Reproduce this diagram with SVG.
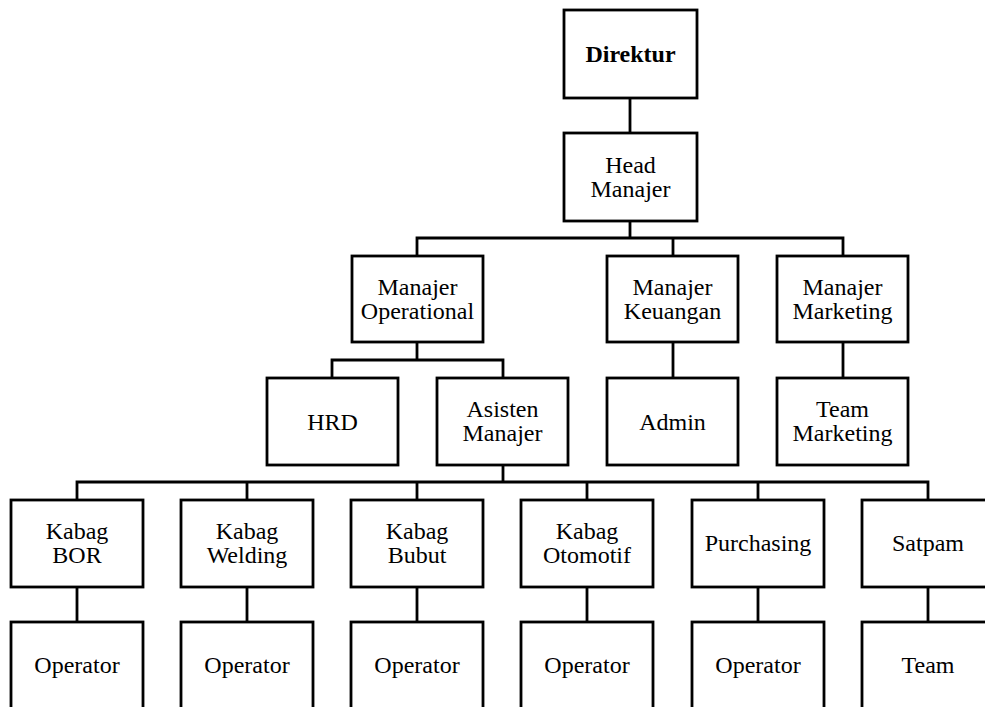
<svg xmlns="http://www.w3.org/2000/svg" width="985" height="707" viewBox="0 0 985 707">
<style>
.box{fill:#fff;stroke:#000;stroke-width:2.8}
.t{font-family:"Liberation Serif","Times New Roman",serif;font-size:24px;fill:#000;text-anchor:middle}
.b{font-weight:bold}
.c{fill:none;stroke:#000;stroke-width:2.8;stroke-linecap:square}
</style>
<rect width="985" height="707" fill="#fff"/>
<g id="connectors">
<path class="c" d="M630,98V133"/>
<path class="c" d="M630,221V238M417,238H843M417,238V256M673,238V256M843,238V256"/>
<path class="c" d="M417,342V360M332,360H503M332,360V378M503,360V378"/>
<path class="c" d="M673,342V378M843,342V378"/>
<path class="c" d="M503,465V482M77,482H928M77,482V500M247,482V500M417,482V500M587,482V500M758,482V500M928,482V500"/>
<path class="c" d="M77,587V622M247,587V622M417,587V622M587,587V622M758,587V622M928,587V622"/>
</g>
<g id="direktur"><rect class="box" x="564" y="10" width="133" height="88"/><text class="t b" x="630.5" y="62">Direktur</text></g>
<g id="head-manajer"><rect class="box" x="564" y="133" width="133" height="88"/><text class="t" x="630.5" y="172.5">Head</text><text class="t" x="630.5" y="196.5">Manajer</text></g>
<g id="manajer-operational"><rect class="box" x="352" y="256" width="131" height="86"/><text class="t" x="417.5" y="294.5">Manajer</text><text class="t" x="417.5" y="318.5">Operational</text></g>
<g id="manajer-keuangan"><rect class="box" x="607" y="256" width="131" height="86"/><text class="t" x="672.5" y="294.5">Manajer</text><text class="t" x="672.5" y="318.5">Keuangan</text></g>
<g id="manajer-marketing"><rect class="box" x="777" y="256" width="131" height="86"/><text class="t" x="842.5" y="294.5">Manajer</text><text class="t" x="842.5" y="318.5">Marketing</text></g>
<g id="hrd"><rect class="box" x="267" y="378" width="131" height="87"/><text class="t" x="332.5" y="429.5">HRD</text></g>
<g id="asisten-manajer"><rect class="box" x="437" y="378" width="131" height="87"/><text class="t" x="502.5" y="417">Asisten</text><text class="t" x="502.5" y="441">Manajer</text></g>
<g id="admin"><rect class="box" x="607" y="378" width="131" height="87"/><text class="t" x="672.5" y="429.5">Admin</text></g>
<g id="team-marketing"><rect class="box" x="777" y="378" width="131" height="87"/><text class="t" x="842.5" y="417">Team</text><text class="t" x="842.5" y="441">Marketing</text></g>
<g id="kabag-bor"><rect class="box" x="11" y="500" width="132" height="87"/><text class="t" x="77" y="539">Kabag</text><text class="t" x="77" y="563">BOR</text></g>
<g id="kabag-welding"><rect class="box" x="181" y="500" width="132" height="87"/><text class="t" x="247" y="539">Kabag</text><text class="t" x="247" y="563">Welding</text></g>
<g id="kabag-bubut"><rect class="box" x="351" y="500" width="132" height="87"/><text class="t" x="417" y="539">Kabag</text><text class="t" x="417" y="563">Bubut</text></g>
<g id="kabag-otomotif"><rect class="box" x="521" y="500" width="132" height="87"/><text class="t" x="587" y="539">Kabag</text><text class="t" x="587" y="563">Otomotif</text></g>
<g id="purchasing"><rect class="box" x="692" y="500" width="132" height="87"/><text class="t" x="758" y="551">Purchasing</text></g>
<g id="satpam"><rect class="box" x="862" y="500" width="132" height="87"/><text class="t" x="928" y="551">Satpam</text></g>
<g id="operator-1"><rect class="box" x="11" y="622" width="132" height="87"/><text class="t" x="77" y="673">Operator</text></g>
<g id="operator-2"><rect class="box" x="181" y="622" width="132" height="87"/><text class="t" x="247" y="673">Operator</text></g>
<g id="operator-3"><rect class="box" x="351" y="622" width="132" height="87"/><text class="t" x="417" y="673">Operator</text></g>
<g id="operator-4"><rect class="box" x="521" y="622" width="132" height="87"/><text class="t" x="587" y="673">Operator</text></g>
<g id="operator-5"><rect class="box" x="692" y="622" width="132" height="87"/><text class="t" x="758" y="673">Operator</text></g>
<g id="team"><rect class="box" x="862" y="622" width="132" height="87"/><text class="t" x="928" y="673">Team</text></g>
</svg>
